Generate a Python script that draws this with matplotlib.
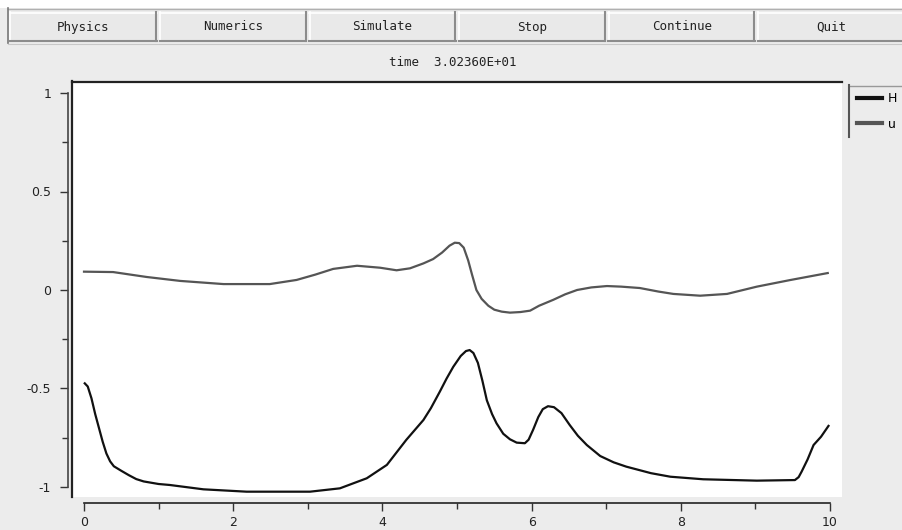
import matplotlib
matplotlib.use('Agg')

from matplotlib import pyplot as plt
from matplotlib.patches import Rectangle
from matplotlib.ticker import MultipleLocator
import numpy as np

# values
buttons = ['Physics', 'Numerics', 'Simulate', 'Stop', 'Continue', 'Quit']
title = 'time  3.02360E+01'

u_x = [0.0, 0.39, 0.84, 1.29, 1.87, 2.49, 2.85, 3.1, 3.34, 3.66, 3.97, 4.19,
       4.37, 4.55, 4.68, 4.8, 4.9, 4.97, 5.03, 5.09, 5.15, 5.2, 5.26, 5.33,
       5.42, 5.5, 5.6, 5.71, 5.85, 5.98, 6.1, 6.29, 6.45, 6.61, 6.8, 7.01,
       7.2, 7.45, 7.7, 7.9, 8.26, 8.62, 9.02, 9.46, 9.97]
u_y = [0.093, 0.091, 0.066, 0.046, 0.030, 0.030, 0.051, 0.078, 0.107, 0.123,
       0.113, 0.100, 0.110, 0.135, 0.157, 0.19, 0.225, 0.240, 0.238, 0.215,
       0.150, 0.080, 0.000, -0.045, -0.080, -0.100, -0.110, -0.115, -0.112,
       -0.105, -0.080, -0.050, -0.022, 0.000, 0.013, 0.020, 0.017, 0.010,
       -0.008, -0.020, -0.029, -0.020, 0.017, 0.050, 0.086]

h_x = [0.01, 0.05, 0.1, 0.15, 0.2, 0.25, 0.3, 0.35, 0.4, 0.5, 0.6, 0.7, 0.8,
       1.0, 1.15, 1.6, 2.18, 3.03, 3.43, 3.79, 4.06, 4.32, 4.55, 4.65, 4.77,
       4.86, 4.95, 5.05, 5.12, 5.17, 5.22, 5.28, 5.34, 5.40, 5.47, 5.53,
       5.62, 5.71, 5.80, 5.91, 5.96, 6.02, 6.09, 6.15, 6.22, 6.30, 6.40,
       6.51, 6.62, 6.74, 6.92, 7.10, 7.27, 7.60, 7.86, 8.30, 9.02, 9.53,
       9.58, 9.62, 9.70, 9.78, 9.88, 9.98]
h_y = [-0.474, -0.49, -0.55, -0.63, -0.70, -0.77, -0.83, -0.87, -0.895,
       -0.918, -0.94, -0.96, -0.972, -0.985, -0.99, -1.012, -1.024, -1.024,
       -1.007, -0.956, -0.888, -0.761, -0.66, -0.60, -0.516, -0.45, -0.39,
       -0.335, -0.31, -0.305, -0.32, -0.37, -0.46, -0.56, -0.63, -0.677,
       -0.73, -0.758, -0.775, -0.778, -0.76, -0.71, -0.645, -0.605, -0.59,
       -0.595, -0.625, -0.685, -0.74, -0.787, -0.843, -0.875, -0.897, -0.93,
       -0.948, -0.961, -0.968, -0.965, -0.95, -0.922, -0.86, -0.787, -0.745,
       -0.69]

W, H = 903, 530
BG = '#ececec'

fig = plt.figure(figsize=(W / 100.0, H / 100.0), dpi=100, facecolor=BG)

# background layer in pixel coordinates (window chrome)
bg = fig.add_axes([0, 0, 1, 1], zorder=0)
bg.set_xlim(0, W)
bg.set_ylim(H, 0)
bg.axis('off')

bg.add_patch(Rectangle((0, 0), W, 8, facecolor='white', edgecolor='none'))
bg.plot([8, W], [8.5, 8.5], color='#b0b0b0', lw=1)
bg.plot([8.5, 8.5], [8, 43], color='#777777', lw=1.2)
bg.plot([8, W], [43.5, 43.5], color='#c8c8c8', lw=0.8)

pitch = 149.6
for i, name in enumerate(buttons):
    x0 = 10 + i * pitch
    x1 = x0 + pitch - 3
    bg.add_patch(Rectangle((x0, 12), x1 - x0, 29, facecolor='#e9e9e9',
                           edgecolor='none'))
    bg.plot([x0, x1], [12.5, 12.5], color='white', lw=1.2)
    bg.plot([x0 + 0.5, x0 + 0.5], [12, 41], color='white', lw=1.2)
    bg.plot([x0, x1], [40.5, 40.5], color='#8c8c8c', lw=1.5)
    bg.plot([x1 - 0.5, x1 - 0.5], [12, 41], color='#8c8c8c', lw=1.5)
    bg.text((x0 + x1) / 2.0, 27, name, ha='center', va='center',
            family='DejaVu Sans Mono', fontsize=9, color='#222222')

bg.text(453, 63, title, ha='center', va='center',
        family='DejaVu Sans Mono', fontsize=9, color='#222222')

# legend box with sunken left edge
bg.plot([849, W], [85.5, 85.5], color='#999999', lw=1)
bg.plot([849.5, 849.5], [85, 137], color='#555555', lw=1.5)

# plotting panel
ax = fig.add_axes([72.0 / W, (H - 497.0) / H, 770.0 / W, 416.0 / H], zorder=1)
ax.set_facecolor('white')

ax.plot(h_x, h_y, color='#111111', lw=1.6, label='H')
ax.plot(u_x, u_y, color='#555555', lw=1.6, label='u')

ax.set_xlim(-0.161, 10.161)
ax.set_ylim(-1.051, 1.061)

for s in ['top', 'right']:
    ax.spines[s].set_visible(False)
ax.spines['left'].set_position(('outward', 3))
ax.spines['bottom'].set_position(('outward', 4))
ax.spines['left'].set_bounds(-1, 1)
ax.spines['bottom'].set_bounds(0, 10)
ax.spines['left'].set_color('#444444')
ax.spines['bottom'].set_color('#222222')
ax.spines['left'].set_linewidth(1.2)
ax.spines['bottom'].set_linewidth(1.2)

ax.xaxis.set_major_locator(MultipleLocator(2))
ax.xaxis.set_minor_locator(MultipleLocator(1))
ax.yaxis.set_major_locator(MultipleLocator(0.5))
ax.yaxis.set_minor_locator(MultipleLocator(0.25))
ax.set_yticks([-1, -0.5, 0, 0.5, 1])
ax.set_yticklabels(['-1', '-0.5', '0', '0.5', '1'])

ax.tick_params(which='major', direction='out', length=6, width=1,
               color='#333333', labelsize=9, labelcolor='#222222')
ax.tick_params(which='minor', direction='out', length=4, width=1,
               color='#333333')
ax.tick_params(axis='y', pad=6)
ax.tick_params(axis='x', pad=4)

# sunken border on the panel (top and left)
bg2 = fig.add_axes([0, 0, 1, 1], zorder=2)
bg2.set_xlim(0, W)
bg2.set_ylim(H, 0)
bg2.axis('off')
bg2.plot([72, 842], [81.5, 81.5], color='#222222', lw=1.6)
bg2.plot([72.5, 72.5], [81, 497], color='#222222', lw=1.6)

leg = ax.legend(loc='upper left', bbox_to_anchor=(857.0 / W, 1 - 92.0 / H),
                bbox_transform=fig.transFigure, frameon=False, fontsize=9,
                handlelength=2.0, handletextpad=0.5, labelspacing=1.0,
                borderpad=0, borderaxespad=0)
for line in leg.get_lines():
    line.set_linewidth(3)

fig.savefig('out.png', dpi=100, facecolor=BG)
